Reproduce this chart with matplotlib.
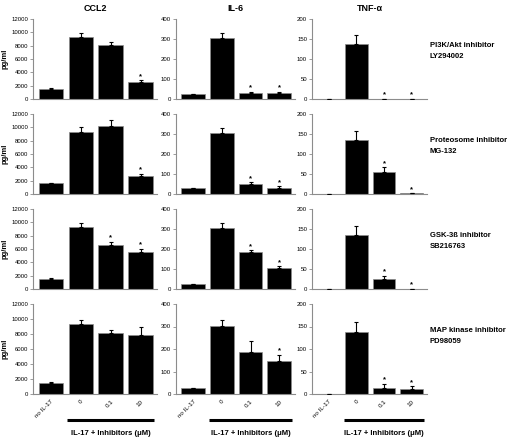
import matplotlib
matplotlib.use('Agg')
import matplotlib.pyplot as plt
import numpy as np

plt.rcParams['font.family'] = ['Liberation Sans', 'DejaVu Sans']

# conditions along the x axis
conditions = ['no IL-17', '0', '0.1', '10']
cytokines = ['CCL2', 'IL-6', 'TNF-α']
inhibitors = ['PI3K/Akt inhibitor\nLY294002',
              'Proteosome inhibitor\nMG-132',
              'GSK-3ß inhibitor\nSB216763',
              'MAP kinase inhibitor\nPD98059']

# means per row (inhibitor) and per condition
ccl2_mean = [[1500, 9300, 8100, 2500],
             [1600, 9300, 10200, 2700],
             [1500, 9300, 6600, 5500],
             [1500, 9300, 8100, 7900]]
ccl2_err = [[100, 600, 500, 300],
            [80, 700, 900, 300],
            [100, 600, 500, 500],
            [100, 600, 400, 1100]]
ccl2_sig = [[0, 0, 0, 1], [0, 0, 0, 1], [0, 0, 1, 1], [0, 0, 0, 0]]

il6_mean = [[25, 305, 30, 30],
            [28, 305, 50, 30],
            [25, 303, 185, 105],
            [25, 303, 188, 148]]
il6_err = [[2, 25, 5, 5],
           [2, 25, 8, 8],
           [2, 25, 8, 8],
           [3, 25, 47, 25]]
il6_sig = [[0, 0, 1, 1], [0, 0, 1, 1], [0, 0, 1, 1], [0, 0, 0, 1]]

tnf_mean = [[0, 138, 1, 1],
            [1, 136, 55, 2],
            [0, 136, 25, 1],
            [0, 138, 14, 12]]
tnf_err = [[0, 22, 0, 0],
           [0, 22, 12, 0],
           [0, 22, 8, 0],
           [0, 22, 8, 5]]
tnf_sig = [[0, 0, 1, 1], [0, 0, 1, 1], [0, 0, 1, 1], [0, 0, 1, 1]]

ylims = [12000, 400, 200]
ysteps = [2000, 100, 50]

W, H = 512, 437
fig = plt.figure(figsize=(W / 100, H / 100), dpi=100)


def px_axes(x0, x1, ytop, ybot):
    return fig.add_axes([x0 / W, 1 - ybot / H, (x1 - x0) / W, (ybot - ytop) / H])


col_px = [(33, 157), (176, 295), (312, 427)]
row_px = [(19, 99), (114, 194), (209, 289), (304, 394)]
data = [(ccl2_mean, ccl2_err, ccl2_sig),
        (il6_mean, il6_err, il6_sig),
        (tnf_mean, tnf_err, tnf_sig)]

x = np.arange(len(conditions))
grey = '#8c8c8c'

for r, (yt, yb) in enumerate(row_px):
    for c, (x0, x1) in enumerate(col_px):
        ax = px_axes(x0, x1, yt, yb)
        mean, err, sig = data[c]
        m = np.array(mean[r], dtype=float)
        e = np.array(err[r], dtype=float)
        ax.bar(x, m, 0.82, color='black', edgecolor=grey, linewidth=0.5, zorder=2)
        ax.errorbar(x, m, yerr=[np.zeros_like(e), e], fmt='none', ecolor='black',
                    elinewidth=0.8, capsize=1.5, capthick=0.8, zorder=3)
        for i in range(len(x)):
            if sig[r][i]:
                ax.text(x[i], m[i] + e[i] + ylims[c] * 0.005, '*', ha='center',
                        va='bottom', fontsize=5.5, fontweight='bold')
        ax.set_xlim(-0.6, 3.55)
        ax.set_ylim(0, ylims[c])
        ax.set_yticks(np.arange(0, ylims[c] + 1, ysteps[c]))
        ax.tick_params(axis='y', labelsize=4.3, length=2, width=0.6, color=grey, pad=1.5)
        ax.tick_params(axis='x', length=0)
        for s in ['top', 'right']:
            ax.spines[s].set_visible(False)
        for s in ['left', 'bottom']:
            ax.spines[s].set_color(grey)
            ax.spines[s].set_linewidth(0.8)
        if r == 0:
            ax.set_title(cytokines[c], fontsize=6.5, fontweight='bold', pad=6)
        if c == 0:
            ax.set_ylabel('pg/ml', fontsize=5.5, fontweight='bold', labelpad=2)
        if r == 3:
            ax.set_xticks(x)
            ax.set_xticklabels(conditions, rotation=45, ha='right',
                               rotation_mode='anchor', fontsize=4.5)
            trans = ax.get_xaxis_transform()
            ax.plot([0.55, 3.45], [-0.29, -0.29], color='black', lw=2.2,
                    transform=trans, clip_on=False, solid_capstyle='butt')
            ax.text(2.0, -0.44, 'IL-17 + Inhibitors (μM)', transform=trans,
                    ha='center', va='center', fontsize=5.5, fontweight='bold')
        else:
            ax.set_xticks([])
    fig.text(430 / W, 1 - (yt + 32) / H, inhibitors[r], fontsize=5.5,
             fontweight='bold', va='center', ha='left', linespacing=1.8)

fig.savefig('out.png', dpi=100)
